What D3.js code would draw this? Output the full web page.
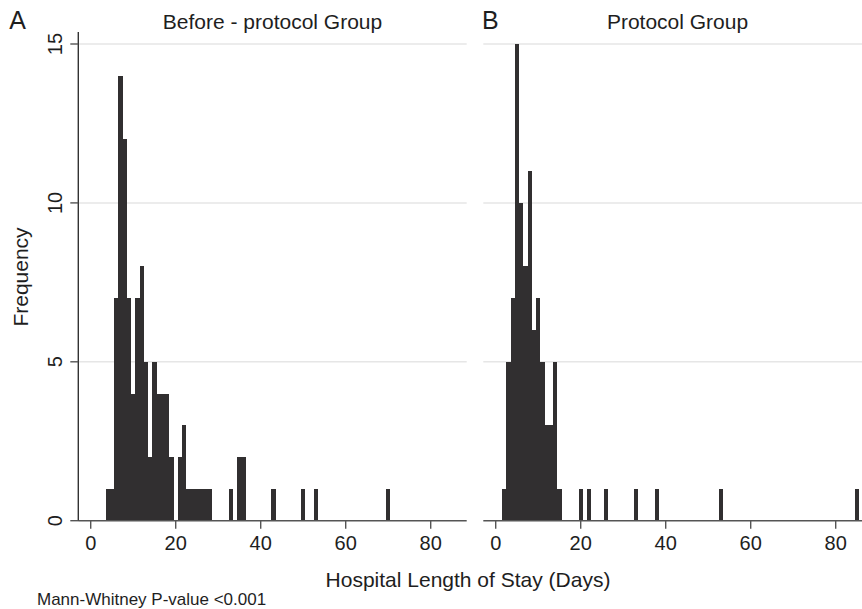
<!DOCTYPE html>
<html>
<head>
<meta charset="utf-8">
<script src="https://cdn.jsdelivr.net/npm/d3@7"></script>
<style>
  body { margin: 0; background: #fff; }
  text { font-family: "Liberation Sans", Arial, Helvetica, sans-serif; fill: #1e1e1e; }
</style>
</head>
<body>
<div id="chart"></div>
<script>
  // Length of stay (days) and number of patients, one bin per day
  const beforeDays = [4, 5, 6, 7, 8, 9, 10, 11, 12, 13, 14, 15, 16, 17, 18, 19, 21, 22, 23, 24, 25, 26, 27, 28, 33, 35, 36, 43, 50, 53, 70];
  const beforeFreq = [1, 1, 7, 14, 12, 7, 4, 7, 8, 5, 2, 5, 4, 4, 4, 2, 2, 3, 1, 1, 1, 1, 1, 1, 1, 2, 2, 1, 1, 1, 1];

  const protocolDays = [2, 3, 4, 5, 6, 7, 8, 9, 10, 11, 12, 13, 14, 15, 20, 22, 26, 33, 38, 53, 85];
  const protocolFreq = [1, 5, 7, 15, 10, 8, 11, 6, 7, 5, 3, 3, 5, 1, 1, 1, 1, 1, 1, 1, 1];

  const xTicks = [0, 20, 40, 60, 80];
  const yTicks = [0, 5, 10, 15];

  const width = 862;
  const height = 609;

  const svg = d3.select("#chart")
    .append("svg")
    .attr("width", width)
    .attr("height", height);

  // common scales, each panel is shifted horizontally
  const y = d3.scaleLinear().domain([0, 15]).range([520.7, 44]);
  const panelW = 388.4;

  function drawPanel(left, days, freq, letter, title, showYAxis) {
    const x = d3.scaleLinear().domain([-2.92, 88.47]).range([left, left + panelW]);
    const g = svg.append("g");

    // gridlines
    g.selectAll(".grid")
      .data(yTicks.filter(d => d > 0))
      .enter()
      .append("line")
      .attr("x1", left)
      .attr("x2", left + panelW)
      .attr("y1", d => y(d))
      .attr("y2", d => y(d))
      .attr("stroke", "#e6e6e6")
      .attr("stroke-width", 1.5);

    // bars
    const bins = days.map((d, i) => ({ day: d, n: freq[i] }));
    g.selectAll("rect")
      .data(bins)
      .enter()
      .append("rect")
      .attr("x", d => x(d.day - 0.5))
      .attr("width", d => x(d.day + 0.5) - x(d.day - 0.5))
      .attr("y", d => y(d.n))
      .attr("height", d => y(0) - y(d.n))
      .attr("fill", "#312f30")
      .attr("shape-rendering", "crispEdges");

    // x axis
    g.append("line")
      .attr("x1", left)
      .attr("x2", left + panelW)
      .attr("y1", y(0))
      .attr("y2", y(0))
      .attr("stroke", "#555")
      .attr("stroke-width", 1.4);

    g.selectAll(".xtick")
      .data(xTicks)
      .enter()
      .append("line")
      .attr("x1", d => x(d))
      .attr("x2", d => x(d))
      .attr("y1", y(0))
      .attr("y2", y(0) + 8)
      .attr("stroke", "#555")
      .attr("stroke-width", 1.4);

    g.selectAll(".xlab")
      .data(xTicks)
      .enter()
      .append("text")
      .attr("x", d => x(d))
      .attr("y", 550)
      .attr("text-anchor", "middle")
      .attr("font-size", 20)
      .text(d => d);

    if (showYAxis) {
      g.append("line")
        .attr("x1", left)
        .attr("x2", left)
        .attr("y1", 32)
        .attr("y2", y(0))
        .attr("stroke", "#333")
        .attr("stroke-width", 1.4);

      g.selectAll(".ytick")
        .data(yTicks)
        .enter()
        .append("line")
        .attr("x1", left - 8)
        .attr("x2", left)
        .attr("y1", d => y(d))
        .attr("y2", d => y(d))
        .attr("stroke", "#555")
        .attr("stroke-width", 1.4);

      g.selectAll(".ylab")
        .data(yTicks)
        .enter()
        .append("text")
        .attr("transform", d => `translate(62,${y(d)}) rotate(-90)`)
        .attr("text-anchor", "middle")
        .attr("font-size", 20)
        .text(d => d);
    }

    // panel letter and title
    g.append("text")
      .attr("x", left - 69)
      .attr("y", 29)
      .attr("font-size", 25)
      .text(letter);

    g.append("text")
      .attr("x", left + panelW / 2)
      .attr("y", 29)
      .attr("text-anchor", "middle")
      .attr("font-size", 21)
      .text(title);
  }

  drawPanel(78.3, beforeDays, beforeFreq, "A", "Before - protocol Group", true);
  drawPanel(483.3, protocolDays, protocolFreq, "", "Protocol Group", false);

  svg.append("text")
    .attr("x", 482)
    .attr("y", 29)
    .attr("font-size", 25)
    .text("B");

  // axis titles and note
  svg.append("text")
    .attr("transform", "translate(28,277) rotate(-90)")
    .attr("text-anchor", "middle")
    .attr("font-size", 21)
    .text("Frequency");

  svg.append("text")
    .attr("x", 468)
    .attr("y", 587)
    .attr("text-anchor", "middle")
    .attr("font-size", 21)
    .text("Hospital Length of Stay (Days)");

  svg.append("text")
    .attr("x", 37)
    .attr("y", 605)
    .attr("font-size", 17)
    .text("Mann-Whitney P-value <0.001");
</script>
</body>
</html>
